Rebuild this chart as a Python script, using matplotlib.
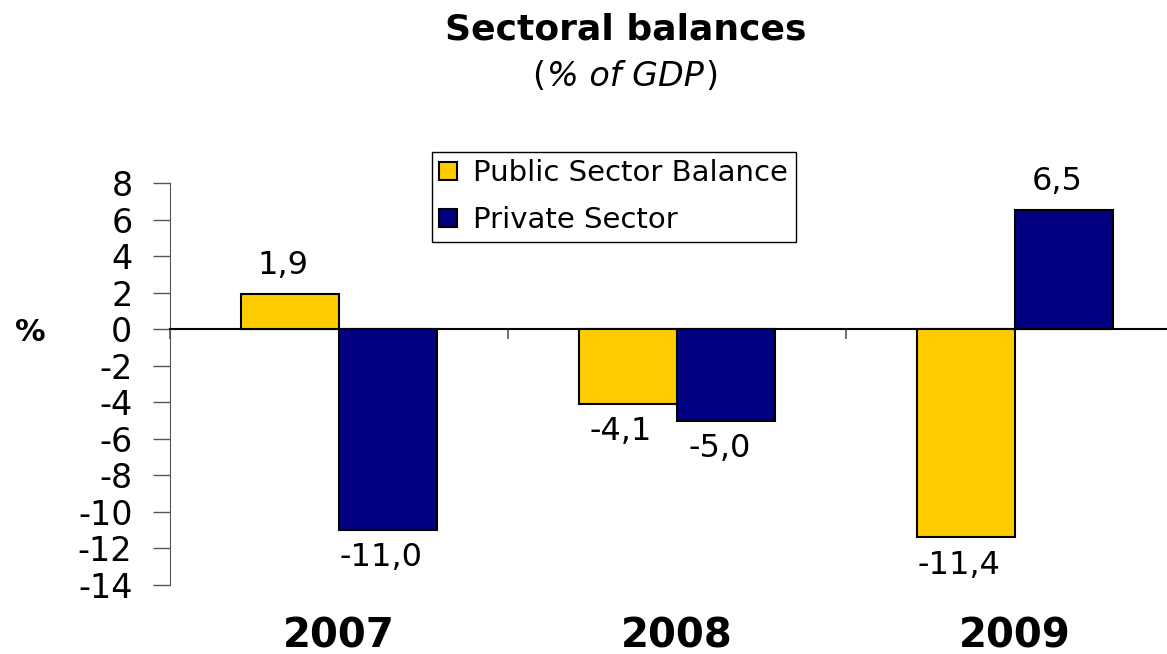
import numpy as np
import matplotlib
matplotlib.use("Agg")
import matplotlib.pyplot as plt
from matplotlib.transforms import blended_transform_factory

plt.rcParams['font.family'] = ['DejaVu Sans']
plt.rcParams['axes.unicode_minus'] = False

years = ['2007', '2008', '2009']
public = [1.9, -4.1, -11.4]
private = [-11.0, -5.0, 6.5]
yticks = list(range(-14, 9, 2))

c_public = '#FFCC00'
c_private = '#000080'


def fmt(v):
    return f"{v:.1f}".replace('.', ',')


fig = plt.figure(figsize=(11.67, 6.54), dpi=100)
ax = fig.add_axes([170 / 1167, 1 - 585 / 654, 1 - 170 / 1167, (585 - 183) / 654])

x = np.arange(len(years))
w = 0.29
b1 = ax.bar(x - w / 2, public, w, color=c_public, edgecolor='black', linewidth=1.5,
            label='Public Sector Balance', zorder=3)
b2 = ax.bar(x + w / 2, private, w, color=c_private, edgecolor='black', linewidth=1.5,
            label='Private Sector', zorder=3)

for bars, vals in ((b1, public), (b2, private)):
    for rect, v in zip(bars, vals):
        cx = rect.get_x() + rect.get_width() / 2
        off = 21 if v > 0 else -20
        ax.annotate(fmt(v), (cx - 0.02, v), xytext=(0, off), textcoords='offset points',
                    ha='center', va='center', fontsize=23)

ax.set_xlim(-0.5, 2.45)
ax.set_ylim(-14, 8)
ax.set_yticks(yticks)
ax.set_yticklabels([str(t) for t in yticks])
ax.tick_params(axis='y', length=12, width=1, pad=15, labelsize=24, color='#555555')

for s in ('top', 'right'):
    ax.spines[s].set_visible(False)
ax.spines['left'].set_color('#555555')
ax.spines['bottom'].set_position(('data', 0))
ax.spines['bottom'].set_linewidth(1.5)
ax.set_xticks([-0.5, 0.5, 1.5])
ax.set_xticklabels([])
ax.tick_params(axis='x', which='major', direction='out', length=7, width=1.2, color='#555555')

tr = blended_transform_factory(ax.transData, fig.transFigure)
for i, yr in enumerate(years):
    ax.text(i, 1 - 636 / 654, yr, transform=tr, ha='center', va='center',
            fontsize=29, fontweight='bold')

fig.text(30 / 1167, 1 - 333 / 654, '%', ha='center', va='center', fontsize=22, fontweight='bold')

fig.text(0.536, 1 - 30 / 654, 'Sectoral balances', ha='center', va='center',
         fontsize=26, fontweight='bold')

# subtitle: italic body with upright parentheses
sub = fig.text(0.536, 1 - 73 / 654, '% of GDP', ha='center', va='center_baseline',
               fontsize=24, style='italic')
fig.canvas.draw()
bb = sub.get_window_extent().transformed(fig.transFigure.inverted())
fig.text(bb.x0 - 0.002, 1 - 73 / 654, '(', ha='right', va='center_baseline', fontsize=24)
fig.text(bb.x1 + 0.001, 1 - 73 / 654, ')', ha='left', va='center_baseline', fontsize=24)

leg = fig.legend(handles=[b1, b2], loc='upper left',
                 bbox_to_anchor=(432 / 1167, 1 - 152 / 654), fontsize=21,
                 frameon=True, fancybox=False, framealpha=1, edgecolor='black',
                 handlelength=0.62, handleheight=0.62, handletextpad=0.55,
                 labelspacing=0.65, borderpad=0.25, borderaxespad=0)
leg.get_frame().set_linewidth(1)

fig.savefig('out.png', dpi=100)
